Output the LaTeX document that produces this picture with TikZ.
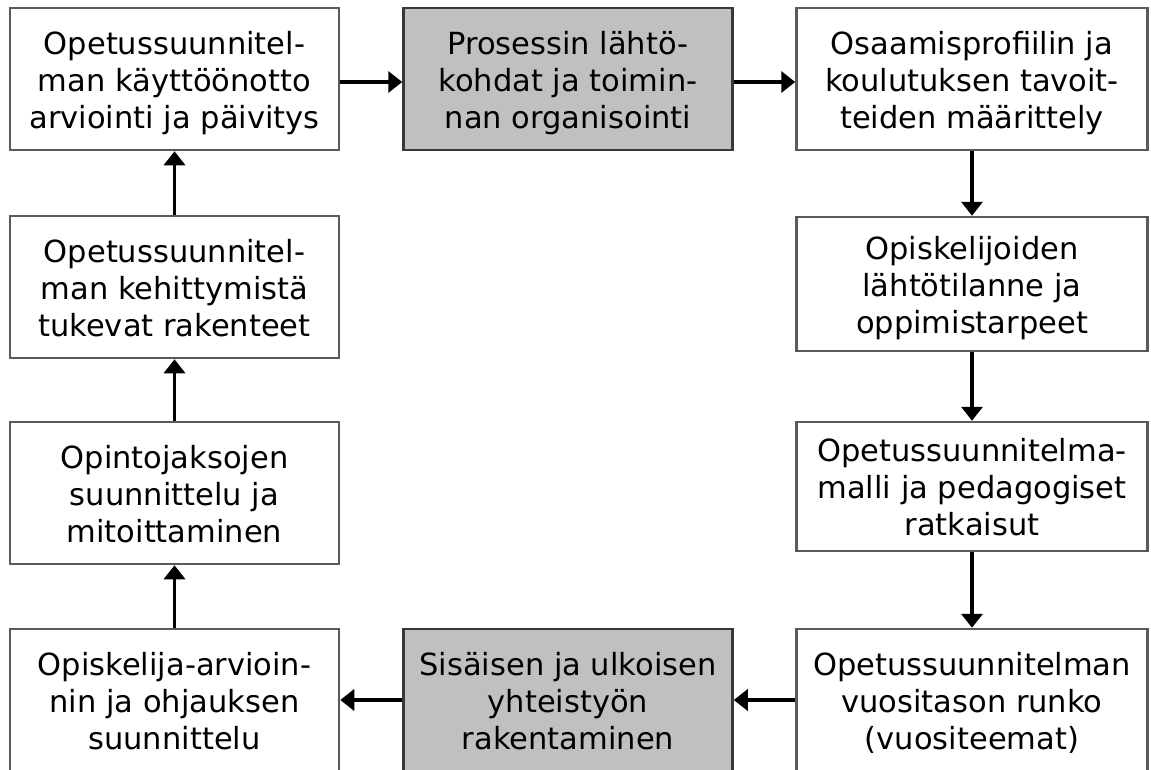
\documentclass[tikz,border=0pt]{standalone}
\usepackage{fontspec}
\setmainfont{DejaVu Sans}
\usetikzlibrary{arrows.meta}
\definecolor{boxgray}{HTML}{C0C0C0}
\definecolor{edgegray}{HTML}{5A5A5A}
\definecolor{edgedark}{HTML}{383838}
\newcommand{\boxtext}[1]{\raisebox{-5pt}[\height][\depth]{\begin{tabular}{@{}c@{}}#1\end{tabular}}}
\begin{document}
\begin{tikzpicture}[x=1pt,y=-1pt,
  stepbox/.style={draw=edgegray, line width=2.5pt, fill=white, inner sep=0pt,
    align=center, font=\fontsize{30.5}{37}\selectfont, text=black},
  leftbox/.style={stepbox, minimum width=329pt, minimum height=142pt},
  midbox/.style={stepbox, minimum width=329pt, minimum height=142pt, fill=boxgray, draw=edgedark},
  rightbox/.style={stepbox, minimum width=351pt},
  arr/.style={line width=3.5pt, -{Triangle[length=14pt,width=21pt]}}
]
\useasboundingbox (0,0) rectangle (1151,769);
\fill[white] (0,0) rectangle (1151,769);
\clip (0,0) rectangle (1151,769);

\node[leftbox] (l1) at (174.5,79) {\boxtext{Opetussuunnitel-\\man käyttöönotto\\arviointi ja päivitys}};
\node[leftbox] (l2) at (174.5,287) {\boxtext{Opetussuunnitel-\\man kehittymistä\\tukevat rakenteet}};
\node[leftbox] (l3) at (174.5,493) {\boxtext{Opintojaksojen\\suunnittelu ja\\mitoittaminen}};
\node[leftbox] (l4) at (174.5,700) {\boxtext{Opiskelija-arvioin-\\nin ja ohjauksen\\suunnittelu}};

\node[midbox] (t2) at (568,79) {\boxtext{Prosessin lähtö-\\kohdat ja toimin-\\nan organisointi}};
\node[midbox] (b2) at (568,700) {\boxtext{Sisäisen ja ulkoisen\\yhteistyön\\rakentaminen}};

\node[rightbox, minimum height=142pt] (r1) at (972,79) {\boxtext{Osaamisprofiilin ja\\koulutuksen tavoit-\\teiden määrittely}};
\node[rightbox, minimum height=134pt] (r2) at (972,284) {\boxtext{Opiskelijoiden\\lähtötilanne ja\\oppimistarpeet}};
\node[rightbox, minimum height=129pt] (r3) at (972,486.5) {\boxtext{Opetussuunnitelma-\\malli ja pedagogiset\\ratkaisut}};
\node[rightbox, minimum height=142pt] (r4) at (972,700) {\boxtext{Opetussuunnitelman\\vuositason runko\\(vuositeemat)}};

\draw[arr] ([yshift=-3pt]l1.east) -- ([yshift=-3pt]t2.west);
\draw[arr] ([yshift=-3pt]t2.east) -- ([yshift=-3pt]r1.west);
\draw[arr] (r1.south) -- (r2.north);
\draw[arr] (r2.south) -- (r3.north);
\draw[arr] (r3.south) -- (r4.north);
\draw[arr] (r4.west) -- (b2.east);
\draw[arr] (b2.west) -- (l4.east);
\draw[arr] (l4.north) -- (l3.south);
\draw[arr] (l3.north) -- (l2.south);
\draw[arr] (l2.north) -- (l1.south);
\end{tikzpicture}
\end{document}
